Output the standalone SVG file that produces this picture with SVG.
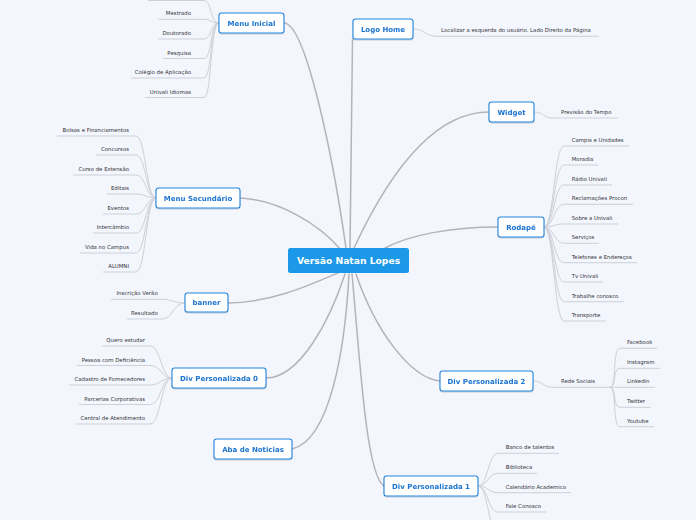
<svg xmlns="http://www.w3.org/2000/svg" width="696" height="520" viewBox="0 0 696 520">
<style>
.bg{fill:#f3f6fd}
.main{fill:none;stroke:#b4b4b8;stroke-width:1.5;stroke-linecap:round}
.leaf{fill:none;stroke:#cfd0d8;stroke-width:1}
.box{fill:#ffffff;stroke:#2585dd;stroke-width:1.1}
.nt{font-family:"DejaVu Sans",Verdana,sans-serif;font-size:7px;font-weight:bold;fill:#1a73d0;text-anchor:middle}
.lt{font-family:"DejaVu Sans",Verdana,sans-serif;font-size:5.4px;fill:#333338}
.l{text-anchor:end}
.root{fill:#1b98e8}
.rt{font-family:"DejaVu Sans",Verdana,sans-serif;font-size:9.2px;font-weight:bold;fill:#ffffff;text-anchor:middle}
</style>
<defs>
<filter id="sh" x="-10%" y="-20%" width="120%" height="150%">
<feDropShadow dx="0" dy="1" stdDeviation="0.6" flood-color="#000" flood-opacity="0.18"/>
</filter>
</defs>
<rect class="bg" width="696" height="520"/>
<g id="connectors">
<path class="main" d="M284,23 C305,23 332,150 346,248"/>
<path class="main" d="M352.5,39 C352,120 351,200 350,248"/>
<path class="main" d="M489,112 C440,112 395,160 354,248"/>
<path class="main" d="M498,227 C450,227 410,235 385,248"/>
<path class="main" d="M240,198 C280,200 320,225 341,250"/>
<path class="main" d="M228,303 C270,303 310,285 340,272"/>
<path class="main" d="M266,378 C300,378 330,320 345,274"/>
<path class="main" d="M292,449 C330,440 345,350 349,274"/>
<path class="main" d="M384,486 C366,475 360,360 352,274"/>
<path class="main" d="M440,381 C410,378 375,330 356,274"/>
<path class="leaf" d="M148,0.5 H204 C212,0.5 210,23 219,23"/>
<path class="leaf" d="M158,19.3 H204 C212,19.3 210,23 219,23"/>
<path class="leaf" d="M158,39 H204 C212,39 210,23 219,23"/>
<path class="leaf" d="M163,58.5 H204 C212,58.5 210,23 219,23"/>
<path class="leaf" d="M131,78 H204 C212,78 210,23 219,23"/>
<path class="leaf" d="M145,97.5 H204 C212,97.5 210,23 219,23"/>
<path class="leaf" d="M57,136 H136 C146,136 146,198 156,198"/>
<path class="leaf" d="M96,155 H136 C146,155 146,198 156,198"/>
<path class="leaf" d="M73,175 H136 C146,175 146,198 156,198"/>
<path class="leaf" d="M107,194 H136 C146,194 146,198 156,198"/>
<path class="leaf" d="M103,214 H136 C146,214 146,198 156,198"/>
<path class="leaf" d="M93,233 H136 C146,233 146,198 156,198"/>
<path class="leaf" d="M80,253 H136 C146,253 146,198 156,198"/>
<path class="leaf" d="M103,272 H136 C146,272 146,198 156,198"/>
<path class="leaf" d="M111,299.3 H162 C173,299.3 173,303 185,303"/>
<path class="leaf" d="M127,319 H162 C173,319 173,303 185,303"/>
<path class="leaf" d="M102,346 H150 C161,346 161,378 172,378"/>
<path class="leaf" d="M77,365.5 H150 C161,365.5 161,378 172,378"/>
<path class="leaf" d="M69,385 H150 C161,385 161,378 172,378"/>
<path class="leaf" d="M79,404.5 H150 C161,404.5 161,378 172,378"/>
<path class="leaf" d="M75,424 H150 C161,424 161,378 172,378"/>
<path class="leaf" d="M413,29 C425,29 425,36.3 437,36.3 H599"/>
<path class="leaf" d="M534,112 C544,112 543,118 553,118 H618"/>
<path class="leaf" d="M544,227 C554,227 554,146 564,146 H629"/>
<path class="leaf" d="M544,227 C554,227 554,165 564,165 H598"/>
<path class="leaf" d="M544,227 C554,227 554,185 564,185 H612"/>
<path class="leaf" d="M544,227 C554,227 554,204.3 564,204.3 H633"/>
<path class="leaf" d="M544,227 C554,227 554,224 564,224 H618"/>
<path class="leaf" d="M544,227 C554,227 554,243.3 564,243.3 H599"/>
<path class="leaf" d="M544,227 C554,227 554,262.7 564,262.7 H637"/>
<path class="leaf" d="M544,227 C554,227 554,282 564,282 H603"/>
<path class="leaf" d="M544,227 C554,227 554,301.7 564,301.7 H624"/>
<path class="leaf" d="M544,227 C554,227 554,321 564,321 H606"/>
<path class="leaf" d="M533,381 C543,381 543,387.3 553,387.3 H610"/>
<path class="leaf" d="M610,387.3 C617,387.3 612,348.3 620,348.3 H657"/>
<path class="leaf" d="M610,387.3 C617,387.3 612,368.3 620,368.3 H660"/>
<path class="leaf" d="M610,387.3 H655"/>
<path class="leaf" d="M610,387.3 C617,387.3 612,407.3 620,407.3 H651"/>
<path class="leaf" d="M610,387.3 C617,387.3 612,426.7 620,426.7 H654"/>
<path class="leaf" d="M478,486 C488,486 488,453.3 498,453.3 H559"/>
<path class="leaf" d="M478,486 C488,486 488,473.3 498,473.3 H537"/>
<path class="leaf" d="M478,486 C488,486 488,492.7 498,492.7 H571"/>
<path class="leaf" d="M478,486 C488,486 488,512 498,512 H546"/>
<path class="leaf" d="M478,486 C488,486 488,531.5 498,531.5 H540"/>
</g>
<g id="root"><rect class="root" x="288" y="248" width="121" height="25" rx="2.5"/><text class="rt" x="348.5" y="264">Versão Natan Lopes</text></g>
<g id="menu-inicial" filter="url(#sh)"><rect class="box" x="219" y="13" width="65" height="20" rx="2.5"/><text class="nt" x="251.5" y="25.5">Menu Inicial</text></g>
<g id="logo-home" filter="url(#sh)"><rect class="box" x="353" y="19" width="60" height="20" rx="2.5"/><text class="nt" x="383" y="31.5">Logo Home</text></g>
<g id="widget" filter="url(#sh)"><rect class="box" x="489" y="102" width="45" height="20" rx="2.5"/><text class="nt" x="511.5" y="114.5">Widget</text></g>
<g id="menu-secundario" filter="url(#sh)"><rect class="box" x="156" y="188" width="84" height="20" rx="2.5"/><text class="nt" x="198" y="200.5">Menu Secundário</text></g>
<g id="rodape" filter="url(#sh)"><rect class="box" x="498" y="217" width="46" height="20" rx="2.5"/><text class="nt" x="521" y="229.5">Rodapé</text></g>
<g id="banner" filter="url(#sh)"><rect class="box" x="185" y="293" width="43" height="19" rx="2.5"/><text class="nt" x="206.5" y="305">banner</text></g>
<g id="div-p0" filter="url(#sh)"><rect class="box" x="172" y="368" width="94" height="20" rx="2.5"/><text class="nt" x="219" y="380.5">Div Personalizada 0</text></g>
<g id="div-p2" filter="url(#sh)"><rect class="box" x="440" y="371" width="93" height="20" rx="2.5"/><text class="nt" x="486.5" y="383.5">Div Personalizada 2</text></g>
<g id="aba-noticias" filter="url(#sh)"><rect class="box" x="214" y="439" width="78" height="20" rx="2.5"/><text class="nt" x="253" y="451.5">Aba de Noticias</text></g>
<g id="div-p1" filter="url(#sh)"><rect class="box" x="384" y="476" width="94" height="20" rx="2.5"/><text class="nt" x="431" y="488.5">Div Personalizada 1</text></g>
<g id="leaves-menu-inicial">
<text class="lt l" x="191" y="15.3">Mestrado</text>
<text class="lt l" x="191" y="35">Doutorado</text>
<text class="lt l" x="191" y="54.5">Pesquisa</text>
<text class="lt l" x="191" y="74">Colégio de Aplicação</text>
<text class="lt l" x="191" y="93.5">Univali Idiomas</text>
</g>
<g id="leaves-menu-secundario">
<text class="lt l" x="129" y="132">Bolsas e Financiamentos</text>
<text class="lt l" x="129" y="151">Concursos</text>
<text class="lt l" x="129" y="171">Curso de Extensão</text>
<text class="lt l" x="129" y="190">Editais</text>
<text class="lt l" x="129" y="210">Eventos</text>
<text class="lt l" x="129" y="229">Intercâmbio</text>
<text class="lt l" x="129" y="249">Vida no Campus</text>
<text class="lt l" x="129" y="268">ALUMNI</text>
</g>
<g id="leaves-banner">
<text class="lt l" x="157.7" y="295.3">Inscrição Verão</text>
<text class="lt l" x="157.7" y="315">Resultado</text>
</g>
<g id="leaves-div-p0">
<text class="lt l" x="145" y="342">Quero estudar</text>
<text class="lt l" x="145" y="361.5">Pessoa com Deficiência</text>
<text class="lt l" x="145" y="381">Cadastro de Fornecedores</text>
<text class="lt l" x="145" y="400.5">Parcerias Corporativas</text>
<text class="lt l" x="145" y="420">Central de Atendimento</text>
</g>
<g id="leaf-logo-home"><text class="lt" x="441" y="32.3">Localizar a esquerda do usuário. Lado Direito da Página</text></g>
<g id="leaf-widget"><text class="lt" x="561" y="114">Previsão do Tempo</text></g>
<g id="leaves-rodape">
<text class="lt" x="571.7" y="142">Campis e Unidades</text>
<text class="lt" x="571.7" y="161">Moradia</text>
<text class="lt" x="571.7" y="181">Rádio Univali</text>
<text class="lt" x="571.7" y="200.3">Reclamações Procon</text>
<text class="lt" x="571.7" y="220">Sobre a Univali</text>
<text class="lt" x="571.7" y="239.3">Serviços</text>
<text class="lt" x="571.7" y="258.7">Telefones e Endereços</text>
<text class="lt" x="571.7" y="278">Tv Univali</text>
<text class="lt" x="571.7" y="297.7">Trabalhe conosco</text>
<text class="lt" x="571.7" y="317">Transporte</text>
</g>
<g id="leaves-div-p2">
<text class="lt" x="561" y="383.3">Rede Sociais</text>
<text class="lt" x="627" y="344.3">Facebook</text>
<text class="lt" x="627" y="364.3">Instagram</text>
<text class="lt" x="627" y="383.3">Linkedin</text>
<text class="lt" x="627" y="403.3">Twitter</text>
<text class="lt" x="627" y="422.7">Youtube</text>
</g>
<g id="leaves-div-p1">
<text class="lt" x="505.7" y="449.3">Banco de talentos</text>
<text class="lt" x="505.7" y="469.3">Biblioteca</text>
<text class="lt" x="505.7" y="488.7">Calendário Academico</text>
<text class="lt" x="505.7" y="508">Fale Conosco</text>
</g>
</svg>
